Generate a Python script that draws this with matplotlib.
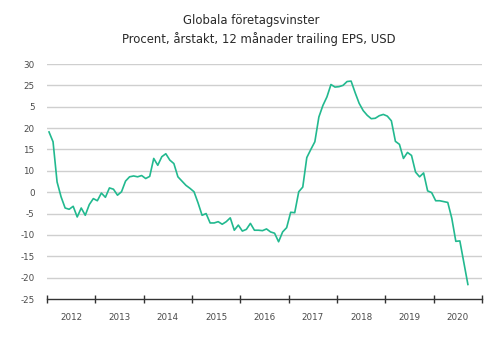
import numpy as np
import matplotlib
matplotlib.use("Agg")
import matplotlib.pyplot as plt

# Monthly EPS growth, Jan 2012 - Sep 2020 (percent, y/y)
start_year = 2012
eps_growth = [
    14.1, 11.8, 2.4, -1.1, -3.7, -4.0, -3.3, -5.8, -3.7, -5.4, -2.9, -1.5,
    -2.0, -0.2, -1.2, 1.0, 0.7, -0.7, 0.1, 2.6, 3.6, 3.8, 3.6, 3.9,
    3.2, 3.7, 7.9, 6.3, 8.3, 9.0, 7.5, 6.7, 3.6, 2.6, 1.6, 0.9,
    0.1, -2.5, -5.4, -5.0, -7.2, -7.2, -6.9, -7.5, -6.9, -6.0, -8.9, -7.7,
    -9.1, -8.7, -7.3, -8.9, -8.9, -9.0, -8.6, -9.3, -9.6, -11.6, -9.3, -8.3,
    -4.7, -4.8, 0.1, 1.2, 8.1, 10.0, 11.8, 17.6, 20.3, 22.3, 25.2, 24.6,
    24.7, 25.0, 25.9, 26.0, 23.3, 20.8, 19.1, 18.0, 17.2, 17.3, 17.9, 18.2,
    17.8, 16.7, 11.9, 11.2, 7.9, 9.3, 8.6, 4.7, 3.6, 4.5, 0.3, -0.1,
    -2.0, -2.0, -2.2, -2.4, -6.1, -11.5, -11.4, -16.5, -21.6,
]
years = list(range(2012, 2021))
y_ticks = [-25, -20, -15, -10, -5, 0, 5, 10, 15, 20, 25, 30]
# tick labels exactly as printed in the original
y_tick_labels = ["-25", "-20", "-15", "-10", "-5", "0", "10", "15", "20", "5", "25", "30"]

line_color = "#22b98f"
grid_color = "#cfcfcf"
text_color = "#4a4a4a"

t = start_year + (np.arange(len(eps_growth)) + 0.5) / 12

fig = plt.figure(figsize=(5.0, 3.61), dpi=100)
ax = fig.add_axes([0.094, 0.1717, 0.87, 0.651])

ax.plot(t, eps_growth, color=line_color, lw=1.2, zorder=3)

ax.set_xlim(years[0], years[-1] + 1)
ax.set_ylim(y_ticks[0], y_ticks[-1])

# horizontal gridlines (not at the bottom axis)
for v in y_ticks[1:]:
    ax.axhline(v, color=grid_color, lw=1.0, zorder=1)

ax.set_yticks(y_ticks)
ax.set_yticklabels(y_tick_labels)
ax.tick_params(axis="y", length=0, pad=9, labelsize=6.3, labelcolor=text_color)

# year boundaries as major ticks, year labels on minor ticks
ax.set_xticks(years + [years[-1] + 1])
ax.set_xticklabels([])
ax.set_xticks([y + 0.5 for y in years], minor=True)
ax.set_xticklabels([str(y) for y in years], minor=True)
ax.tick_params(axis="x", which="major", direction="inout", length=6, width=1, color="#333333")
ax.tick_params(axis="x", which="minor", length=0, pad=10, labelsize=6.3, labelcolor=text_color)

for s in ["top", "right", "left"]:
    ax.spines[s].set_visible(False)
ax.spines["bottom"].set_color("#333333")
ax.spines["bottom"].set_linewidth(1.0)

fig.text(0.502, 0.942, "Globala företagsvinster", ha="center", va="center",
         fontsize=8.4, color="#2a2a2a")
fig.text(0.518, 0.892, "Procent, årstakt, 12 månader trailing EPS, USD", ha="center",
         va="center", fontsize=8.4, color="#2a2a2a")

fig.savefig("out.png", dpi=100, facecolor="white")
